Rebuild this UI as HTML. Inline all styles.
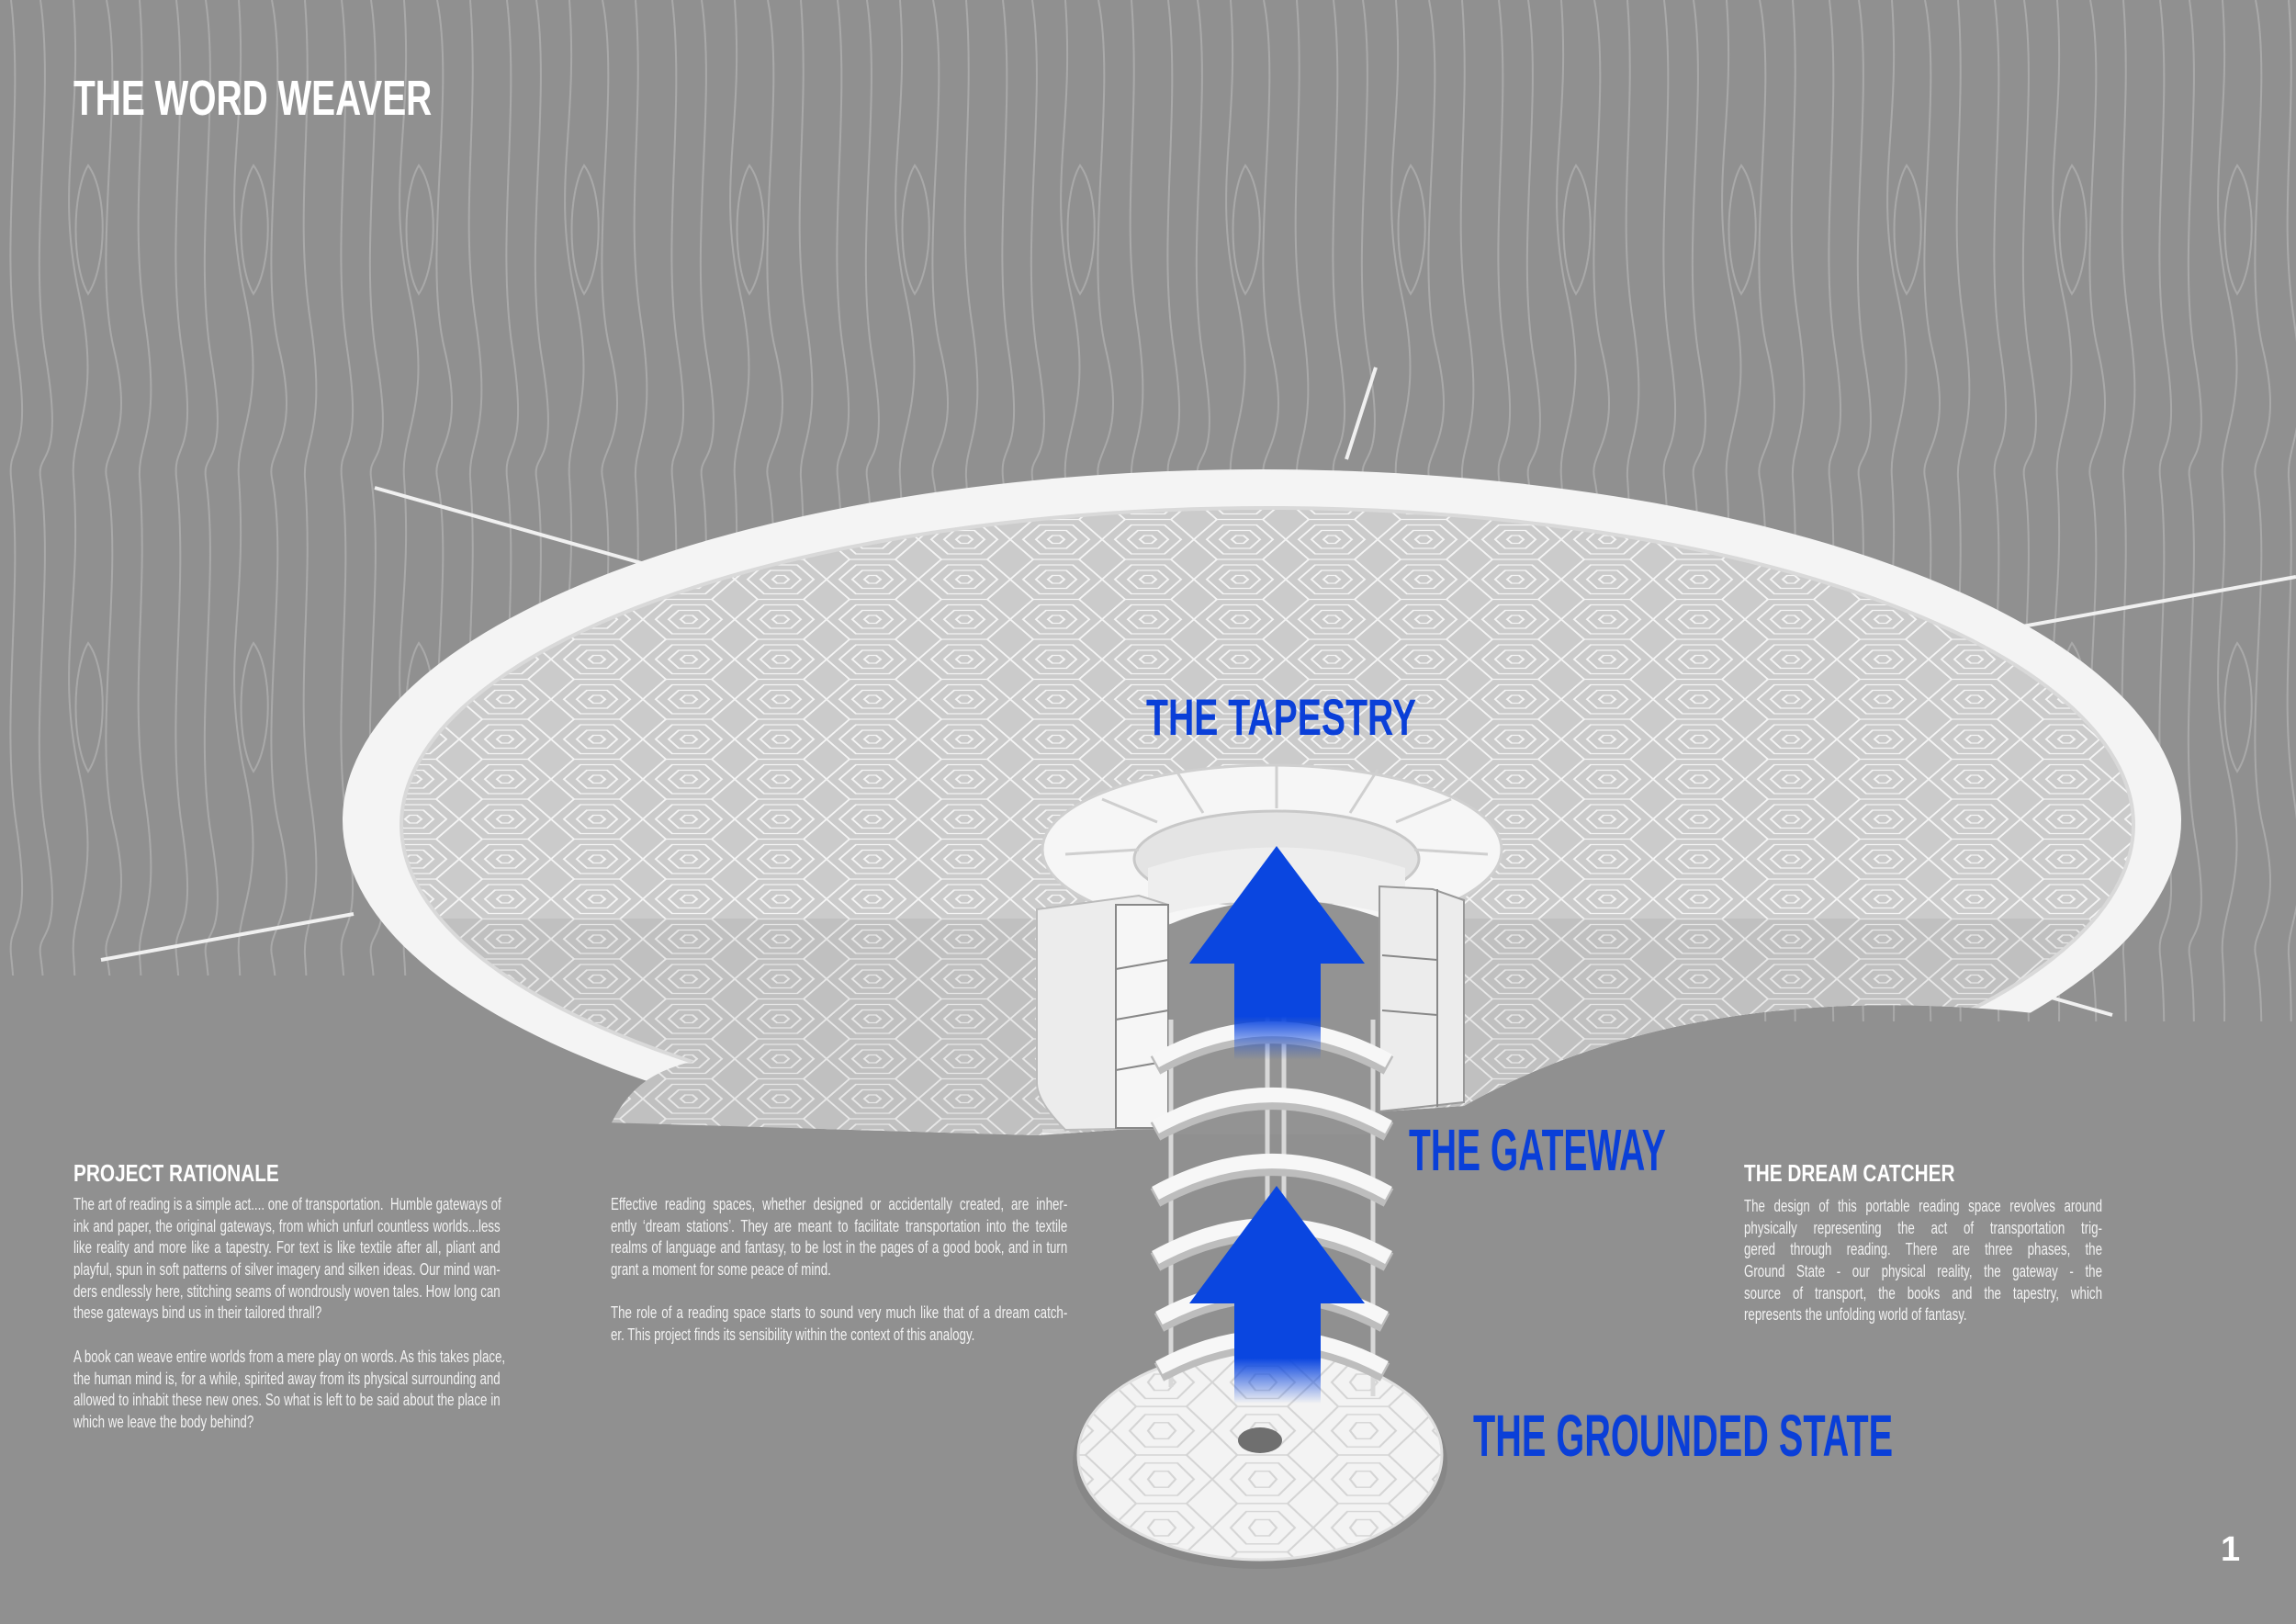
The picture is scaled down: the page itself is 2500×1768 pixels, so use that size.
<!DOCTYPE html>
<html><head><meta charset="utf-8">
<style>
html,body{margin:0;padding:0;}
body{width:2500px;height:1768px;position:relative;overflow:hidden;background:#909090;font-family:"Liberation Sans",sans-serif;}
svg{position:absolute;left:0;top:0;}
.t{position:absolute;color:#fff;white-space:nowrap;}
.h{font-weight:bold;transform-origin:left center;}
.lab{position:absolute;color:#0a3fd8;font-weight:bold;white-space:nowrap;transform-origin:left center;}
.body{position:absolute;color:#f2f2f2;font-size:18px;transform-origin:left top;}
.body div{height:23.7px;line-height:23.7px;text-align:justify;text-align-last:justify;white-space:nowrap;}
.body div.l{text-align-last:left;}
</style></head><body>
<svg width="2500" height="1768" viewBox="0 0 2500 1768">
<defs>
<pattern id="wood" width="180" height="520" patternUnits="userSpaceOnUse">
<g fill="none" stroke="#a9a9a9" stroke-width="2">
<path d="M12 0 C26 120 0 260 18 380 S8 480 12 520"/>
<path d="M44 0 C60 110 30 270 50 390 S40 490 44 520"/>
<path d="M80 0 C90 140 60 200 86 320 S76 470 80 520"/>
<path d="M116 0 C136 100 100 280 124 380 S110 490 116 520"/>
<path d="M152 0 C162 130 140 230 158 350 S150 480 152 520"/>
<path d="M96 180 C118 210 116 290 96 320 C78 290 78 210 96 180Z"/>
</g>
</pattern>
<pattern id="hex" width="100" height="87" patternUnits="userSpaceOnUse" patternTransform="scale(1,0.5)">
<rect width="100" height="87" fill="#cbcbcb"/>
<g fill="none" stroke="#f4f4f4" stroke-width="2.5">
<path d="M25 0 L75 0 L100 43.5 L75 87 L25 87 L0 43.5Z"/>
<path d="M32 12 L68 12 L86 43.5 L68 75 L32 75 L14 43.5Z"/>
<path d="M39 24 L61 24 L72 43.5 L61 63 L39 63 L28 43.5Z"/>
<path d="M46 35 L54 35 L59 43.5 L54 52 L46 52 L41 43.5Z"/>
</g>
</pattern>
<pattern id="hex2" width="110" height="96" patternUnits="userSpaceOnUse" patternTransform="scale(1,0.55)">
<rect width="110" height="96" fill="#f3f3f3"/>
<g fill="none" stroke="#d4d4d4" stroke-width="2.5">
<path d="M27 0 L82 0 L110 48 L82 96 L27 96 L0 48Z"/>
<path d="M37 16 L72 16 L90 48 L72 80 L37 80 L20 48Z"/>
<path d="M47 32 L62 32 L70 48 L62 64 L47 64 L40 48Z"/>
</g>
</pattern>
<linearGradient id="fade1" x1="0" y1="0" x2="0" y2="1">
<stop offset="0" stop-color="#0a46e0"/><stop offset="0.55" stop-color="#0a46e0"/><stop offset="1" stop-color="#0a46e0" stop-opacity="0"/>
</linearGradient>
<clipPath id="top"><path d="M0 0 H2500 V1105 L2232 1105 Q1850 1060 1594 1204 L1130 1236 L660 1222 L0 1222Z"/></clipPath>
<clipPath id="inner"><ellipse cx="1380" cy="898" rx="943" ry="345"/></clipPath>
</defs>
<rect width="2500" height="1062" fill="url(#wood)"/>
<rect x="1900" y="1062" width="600" height="50" fill="url(#wood)"/>
<!-- wires -->
<g stroke="#f0f0f0" stroke-width="4" fill="none">
<line x1="408" y1="531" x2="702" y2="614"/>
<line x1="1466" y1="500" x2="1498" y2="400"/>
<line x1="2180" y1="686" x2="2500" y2="628"/>
<line x1="110" y1="1045" x2="385" y2="995"/>
<line x1="2230" y1="1085" x2="2300" y2="1105"/>
</g>
<!-- dish -->
<g clip-path="url(#top)">
<ellipse cx="1374" cy="893" rx="1001" ry="382" fill="#f4f4f4"/>
<ellipse cx="1380" cy="898" rx="943" ry="345" fill="url(#hex)"/>
<g clip-path="url(#inner)"><rect x="400" y="1000" width="1900" height="260" fill="#000" opacity="0.05"/></g>
<ellipse cx="1380" cy="898" rx="943" ry="345" fill="none" stroke="#d9d9d9" stroke-width="4"/>
<!-- cut-away underside covering front ring -->
<path d="M665 1224 C690 1175 720 1160 790 1148 L1135 1110 L1135 1240 Z" fill="url(#hex)"/>
<path d="M665 1224 C690 1175 720 1160 790 1148 L1135 1110 L1135 1240 Z" fill="#000" opacity="0.05"/>
</g>
<!-- cylinder seat ring -->
<ellipse cx="1385" cy="925" rx="250" ry="92" fill="#f6f6f6" stroke="#cfcfcf" stroke-width="3"/>
<ellipse cx="1390" cy="935" rx="155" ry="52" fill="#e4e4e4" stroke="#c8c8c8" stroke-width="3"/>
<g stroke="#cfcfcf" stroke-width="3" fill="none">
<path d="M1160 930 L1240 925"/><path d="M1200 870 L1260 895"/><path d="M1280 838 L1310 885"/><path d="M1390 832 L1390 880"/><path d="M1500 838 L1470 885"/><path d="M1580 870 L1520 895"/><path d="M1620 930 L1540 925"/>
</g>
<path d="M1250 945 Q1390 900 1530 945 L1530 1000 Q1390 960 1250 1000Z" fill="#eeeeee"/>
<path d="M1265 1010 Q1387 955 1505 1000 L1505 1235 L1265 1235Z" fill="#939393"/>
<!-- left box -->
<path d="M1129 990 L1240 975 L1272 985 L1272 1228 L1160 1230 Q1130 1200 1129 1180Z" fill="#ececec" stroke="#bbb" stroke-width="2"/>
<rect x="1215" y="985" width="57" height="243" fill="#f6f6f6" stroke="#888" stroke-width="2"/>
<g stroke="#888" stroke-width="2"><line x1="1215" y1="1055" x2="1272" y2="1045"/><line x1="1215" y1="1110" x2="1272" y2="1100"/><line x1="1215" y1="1165" x2="1272" y2="1155"/></g>
<!-- right box -->
<path d="M1502 965 L1560 968 L1594 980 L1594 1200 L1502 1210Z" fill="#ececec" stroke="#999" stroke-width="2"/>
<g stroke="#888" stroke-width="2"><line x1="1505" y1="1040" x2="1565" y2="1045"/><line x1="1505" y1="1100" x2="1565" y2="1105"/><line x1="1565" y1="968" x2="1565" y2="1205"/></g>
<!-- base disc -->
<ellipse cx="1372" cy="1592" rx="204" ry="116" fill="#7d7d7d" opacity="0.5"/>
<ellipse cx="1372" cy="1584" rx="198" ry="114" fill="url(#hex2)" stroke="#e0e0e0" stroke-width="3"/>
<ellipse cx="1372" cy="1568" rx="24" ry="14" fill="#6f6f6f"/>
<!-- rods -->
<g stroke="#d8d8d8" stroke-width="5">
<line x1="1275" y1="1110" x2="1275" y2="1510"/><line x1="1495" y1="1110" x2="1495" y2="1520"/>
<line x1="1380" y1="1095" x2="1380" y2="1480"/><line x1="1398" y1="1095" x2="1398" y2="1480"/>
</g>
<!-- discs -->
<g fill="none" stroke-linecap="butt">
<g stroke="#bdbdbd" stroke-width="22">
<path d="M1258 1160 Q1385 1090 1512 1160"/><path d="M1258 1232 Q1385 1162 1512 1232"/><path d="M1258 1304 Q1385 1234 1512 1304"/><path d="M1258 1374 Q1385 1304 1512 1374"/><path d="M1262 1440 Q1385 1374 1508 1440"/><path d="M1262 1494 Q1385 1428 1508 1494"/>
</g>
<g stroke="#f7f7f7" stroke-width="16">
<path d="M1258 1155 Q1385 1085 1512 1155"/><path d="M1258 1227 Q1385 1157 1512 1227"/><path d="M1258 1299 Q1385 1229 1512 1299"/><path d="M1258 1369 Q1385 1299 1512 1369"/><path d="M1262 1435 Q1385 1369 1508 1435"/><path d="M1262 1489 Q1385 1423 1508 1489"/>
</g>
</g>
<!-- arrows -->
<polygon points="1390,921 1486,1049 1295,1049" fill="#0a46e0"/>
<rect x="1344" y="1048" width="94" height="106" fill="url(#fade1)"/>
<polygon points="1390,1291 1486,1419 1295,1419" fill="#0a46e0"/>
<rect x="1344" y="1418" width="94" height="110" fill="url(#fade1)"/>
</svg>

<div class="t h" style="left:80px;top:76px;font-size:54px;transform:scaleX(0.72);">THE WORD WEAVER</div>
<div class="lab" style="left:1248px;top:748px;font-size:56px;transform:scaleX(0.70);">THE TAPESTRY</div>
<div class="lab" style="left:1534px;top:1215px;font-size:64px;transform:scaleX(0.61);">THE GATEWAY</div>
<div class="lab" style="left:1604px;top:1526px;font-size:64px;transform:scaleX(0.62);">THE GROUNDED STATE</div>
<div class="t h" style="left:2418px;top:1666px;font-size:38px;">1</div>

<div class="t h" style="left:80px;top:1262px;font-size:26px;transform:scaleX(0.8);">PROJECT RATIONALE</div>
<div class="body" style="left:80px;top:1300px;width:628px;transform:scaleX(0.74);">
<div>The art of reading is a simple act.... one of transportation.&nbsp; Humble gateways of</div>
<div>ink and paper, the original gateways, from which unfurl countless worlds...less</div>
<div>like reality and more like a tapestry. For text is like textile after all, pliant and</div>
<div>playful, spun in soft patterns of silver imagery and silken ideas. Our mind wan-</div>
<div>ders endlessly here, stitching seams of wondrously woven tales. How long can</div>
<div class="l">these gateways bind us in their tailored thrall?</div>
<div class="l"></div>
<div>A book can weave entire worlds from a mere play on words. As this takes place,</div>
<div>the human mind is, for a while, spirited away from its physical surrounding and</div>
<div>allowed to inhabit these new ones. So what is left to be said about the place in</div>
<div class="l">which we leave the body behind?</div>
</div>

<div class="body" style="left:665px;top:1300px;width:672px;transform:scaleX(0.74);">
<div>Effective reading spaces, whether designed or accidentally created, are inher-</div>
<div>ently ‘dream stations’. They are meant to facilitate transportation into the textile</div>
<div>realms of language and fantasy, to be lost in the pages of a good book, and in turn</div>
<div class="l">grant a moment for some peace of mind.</div>
<div class="l"></div>
<div>The role of a reading space starts to sound very much like that of a dream catch-</div>
<div class="l">er. This project finds its sensibility within the context of this analogy.</div>
</div>

<div class="t h" style="left:1899px;top:1262px;font-size:26px;transform:scaleX(0.8);">THE DREAM CATCHER</div>
<div class="body" style="left:1899px;top:1302px;width:527px;transform:scaleX(0.74);">
<div>The design of this portable reading space revolves around</div>
<div>physically representing the act of transportation trig-</div>
<div>gered through reading. There are three phases, the</div>
<div>Ground State - our physical reality, the gateway - the</div>
<div>source of transport, the books and the tapestry, which</div>
<div class="l">represents the unfolding world of fantasy.</div>
</div>
</body></html>
